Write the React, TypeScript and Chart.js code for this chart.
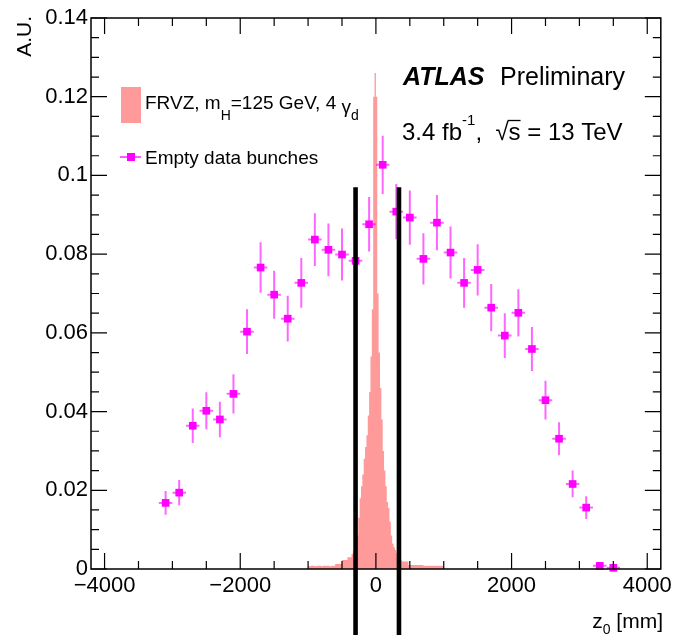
import React, { useEffect, useRef } from 'react';
import { Chart, registerables } from 'chart.js';

Chart.register(...registerables);

const FONT = '"Liberation Sans", Arial, Helvetica, sans-serif';

// Empty data bunches: bin centres (mm), values (A.U.), vertical errors, half bin width
const bkgCenters = [-3100, -2900, -2700, -2500, -2300, -2100, -1900, -1700, -1500, -1300, -1100, -900, -700, -500, -300, -100, 100, 300, 500, 700, 900, 1100, 1300, 1500, 1700, 1900, 2100, 2300, 2500, 2700, 2900, 3100, 3300, 3500];
const bkgValues = [0.0168, 0.0194, 0.0364, 0.0402, 0.038, 0.0445, 0.0603, 0.0766, 0.0697, 0.0636, 0.0727, 0.0837, 0.0811, 0.0799, 0.0783, 0.0876, 0.1027, 0.0908, 0.0893, 0.0788, 0.088, 0.0804, 0.0727, 0.076, 0.0664, 0.0593, 0.0651, 0.0559, 0.0429, 0.0331, 0.0216, 0.0156, 0.0008, 0.0003];
const bkgErrors = [0.003, 0.0032, 0.0044, 0.0047, 0.0045, 0.005, 0.0057, 0.0064, 0.0061, 0.0058, 0.0063, 0.0067, 0.0067, 0.0066, 0.0065, 0.0069, 0.0074, 0.007, 0.0069, 0.0065, 0.007, 0.0066, 0.0063, 0.0065, 0.006, 0.0057, 0.006, 0.0056, 0.0049, 0.0042, 0.0034, 0.0029, 0.0004, 0.0003];
const bkgHalfWidth = 100;

// FRVZ signal histogram: first bin low edge, bin width (mm), bin contents
const sigLow = -1000;
const sigWidth = 20;
const sigValues = [
  0.0008, 0.0008, 0.0007, 0.0008, 0.0008, 0.0008, 0.0007, 0.0008, 0.0008, 0.0008,
  0.0008, 0.0007, 0.0008, 0.0008, 0.0008, 0.0008, 0.0008, 0.0007, 0.0008, 0.0008,
  0.0008, 0.0013, 0.0013, 0.0013, 0.0013, 0.0013, 0.0023, 0.0023, 0.0023, 0.0023,
  0.003, 0.003, 0.003, 0.0038, 0.0045, 0.005, 0.006, 0.0085, 0.013, 0.018,
  0.021, 0.024, 0.028, 0.031, 0.034, 0.039, 0.045, 0.054, 0.066, 0.12,
  0.126, 0.12, 0.07, 0.055, 0.046, 0.038, 0.03, 0.025, 0.021, 0.017,
  0.0155, 0.012, 0.0085, 0.0065, 0.0055, 0.0048, 0.004, 0.003, 0.0025, 0.0023,
  0.0019, 0.0019, 0.0019, 0.0019, 0.0019, 0.001, 0.001, 0.001, 0.001, 0.001,
  0.001, 0.001, 0.001, 0.001, 0.001, 0.001, 0.0008, 0.0008, 0.0008, 0.0008,
  0.0008, 0.0008, 0.0008, 0.0008, 0.0008, 0.0008, 0.0008, 0.0008, 0.0008, 0.0008,
];

// Cut lines (mm) and their top (A.U.)
const cutPositions = [-300, 340];
const cutTop = 0.097;

// Axes
const xMin = -4200;
const xMax = 4200;
const yMin = 0;
const yMax = 0.14;
const xTicks = [-4000, -2000, 0, 2000, 4000];
const xTickLabels = ['\u22124000', '\u22122000', '0', '2000', '4000'];
const xMinorStep = 500;
const yTicks = [0, 0.02, 0.04, 0.06, 0.08, 0.1, 0.12, 0.14];
const yTickLabels = ['0', '0.02', '0.04', '0.06', '0.08', '0.1', '0.12', '0.14'];
const yMinorStep = 0.005;

const SIG_COLOR = '#ff9a9a';
const BKG_COLOR = '#ff00ff';
const ERR_COLOR = 'rgba(255,0,255,0.6)';

type Run = { text: string; size: number; dy?: number; style?: string };

function runsWidth(ctx: CanvasRenderingContext2D, runs: Run[]) {
  let w = 0;
  for (const r of runs) {
    ctx.font = `${r.style ?? ''} ${r.size}px ${FONT}`;
    w += ctx.measureText(r.text).width;
  }
  return w;
}

function drawRuns(ctx: CanvasRenderingContext2D, x: number, baseline: number, runs: Run[]) {
  let cx = x;
  ctx.textAlign = 'left';
  ctx.textBaseline = 'alphabetic';
  for (const r of runs) {
    ctx.font = `${r.style ?? ''} ${r.size}px ${FONT}`;
    ctx.fillText(r.text, cx, baseline + (r.dy ?? 0));
    cx += ctx.measureText(r.text).width;
  }
  return cx;
}

export default function App() {
  const ref = useRef<HTMLCanvasElement>(null);

  useEffect(() => {
    const canvas = ref.current;
    if (!canvas) return;

    const sigData: { x: number; y: number }[] = sigValues.map((v, i) => ({ x: sigLow + i * sigWidth, y: v }));
    sigData.push({ x: sigLow + sigValues.length * sigWidth, y: sigValues[sigValues.length - 1] });
    const bkgData = bkgCenters.map((c, i) => ({ x: c, y: bkgValues[i] }));

    const errorBars = {
      id: 'errorBars',
      beforeDatasetDraw(chart: any, args: any) {
        if (args.index !== 0) return;
        const { ctx } = chart;
        const xs = chart.scales.x;
        const ys = chart.scales.y;
        ctx.save();
        ctx.strokeStyle = ERR_COLOR;
        ctx.lineWidth = 2;
        bkgCenters.forEach((c, i) => {
          const px = xs.getPixelForValue(c);
          const py = ys.getPixelForValue(bkgValues[i]);
          ctx.beginPath();
          ctx.moveTo(px, ys.getPixelForValue(bkgValues[i] - bkgErrors[i]));
          ctx.lineTo(px, ys.getPixelForValue(bkgValues[i] + bkgErrors[i]));
          ctx.moveTo(xs.getPixelForValue(c - bkgHalfWidth), py);
          ctx.lineTo(xs.getPixelForValue(c + bkgHalfWidth), py);
          ctx.stroke();
        });
        ctx.restore();
      },
    };

    const decorations = {
      id: 'decorations',
      afterDraw(chart: any) {
        const { ctx, chartArea } = chart;
        const xs = chart.scales.x;
        const ys = chart.scales.y;
        const { left, right, top, bottom } = chartArea;
        ctx.save();

        // frame
        ctx.strokeStyle = '#000';
        ctx.lineWidth = 1.5;
        ctx.strokeRect(left, top, right - left, bottom - top);

        // ticks (inner, all four sides)
        ctx.lineWidth = 1.2;
        ctx.beginPath();
        const majX = 16;
        const minX = 8;
        for (let v = xTicks[0]; v <= xTicks[xTicks.length - 1] + 1e-9; v += xMinorStep) {
          const isMajor = xTicks.some((t) => Math.abs(t - v) < 1e-6);
          const len = isMajor ? majX : minX;
          const px = xs.getPixelForValue(v);
          ctx.moveTo(px, bottom);
          ctx.lineTo(px, bottom - len);
          ctx.moveTo(px, top);
          ctx.lineTo(px, top + len);
        }
        for (let k = 0; k * yMinorStep <= yMax + 1e-9; k++) {
          const v = yMin + k * yMinorStep;
          const isMajor = yTicks.some((t) => Math.abs(t - v) < 1e-9);
          const len = isMajor ? majX : minX;
          const py = ys.getPixelForValue(v);
          ctx.moveTo(left, py);
          ctx.lineTo(left + len, py);
          ctx.moveTo(right, py);
          ctx.lineTo(right - len, py);
        }
        ctx.stroke();

        // cut lines
        ctx.strokeStyle = '#000';
        ctx.lineWidth = 4.6;
        ctx.lineCap = 'butt';
        cutPositions.forEach((c) => {
          const px = xs.getPixelForValue(c);
          ctx.beginPath();
          ctx.moveTo(px, ys.getPixelForValue(cutTop));
          ctx.lineTo(px, chart.height);
          ctx.stroke();
        });

        ctx.fillStyle = '#000';
        // ATLAS label
        drawRuns(ctx, 403, 85, [{ text: 'ATLAS', size: 25, style: 'italic bold' }]);
        drawRuns(ctx, 500, 85, [{ text: 'Preliminary', size: 25 }]);
        // lumi / energy
        const afterS = drawRuns(ctx, 402, 140, [
          { text: '3.4 fb', size: 24 },
          { text: '-1', size: 15, dy: -15 },
          { text: ',  ', size: 24 },
          { text: '\u221A', size: 24 },
        ]);
        ctx.font = `24px ${FONT}`;
        const sW = ctx.measureText('s').width;
        ctx.fillText('s', afterS, 140);
        ctx.lineWidth = 1.3;
        ctx.beginPath();
        ctx.moveTo(afterS - 1, 120.5);
        ctx.lineTo(afterS + sW, 120.5);
        ctx.stroke();
        drawRuns(ctx, afterS + sW, 140, [{ text: ' = 13 TeV', size: 24 }]);

        // legend
        ctx.fillStyle = SIG_COLOR;
        ctx.fillRect(121, 87, 20, 36);
        ctx.fillStyle = '#000';
        drawRuns(ctx, 145, 109, [
          { text: 'FRVZ, m', size: 19 },
          { text: 'H', size: 14, dy: 11 },
          { text: '=125 GeV, 4 ', size: 19 },
          { text: '\u03B3', size: 19, dy: 4 },
          { text: 'd', size: 14, dy: 11 },
        ]);
        ctx.strokeStyle = BKG_COLOR;
        ctx.lineWidth = 1.3;
        ctx.beginPath();
        ctx.moveTo(120, 157);
        ctx.lineTo(141, 157);
        ctx.stroke();
        ctx.fillStyle = BKG_COLOR;
        ctx.fillRect(127, 153, 8, 8);
        ctx.fillStyle = '#000';
        drawRuns(ctx, 145, 163.5, [{ text: 'Empty data bunches', size: 19 }]);

        // x title
        const xRuns: Run[] = [
          { text: 'z', size: 21 },
          { text: '0', size: 14, dy: 6 },
          { text: ' [mm]', size: 21 },
        ];
        const w = runsWidth(ctx, xRuns);
        drawRuns(ctx, 663 - w, 628, xRuns);

        // y title
        ctx.save();
        ctx.translate(31, 16);
        ctx.rotate(-Math.PI / 2);
        ctx.font = `21px ${FONT}`;
        ctx.textAlign = 'right';
        ctx.textBaseline = 'alphabetic';
        ctx.fillText('A.U.', 0, 0);
        ctx.restore();

        ctx.restore();
      },
    };

    const chart = new Chart(canvas, {
      type: 'scatter',
      data: {
        datasets: [
          {
            type: 'scatter',
            label: 'Empty data bunches',
            data: bkgData,
            pointStyle: 'rect',
            pointRadius: 5.4,
            pointBackgroundColor: BKG_COLOR,
            pointBorderColor: BKG_COLOR,
            pointBorderWidth: 0,
            showLine: false,
            clip: false,
          } as any,
          {
            type: 'line',
            label: 'FRVZ',
            data: sigData,
            stepped: 'after',
            fill: 'origin',
            backgroundColor: SIG_COLOR,
            borderColor: 'rgba(0,0,0,0)',
            borderWidth: 1,
            pointRadius: 0,
            showLine: true,
          } as any,
        ],
      },
      options: {
        animation: false,
        responsive: false,
        devicePixelRatio: 1,
        layout: { padding: { left: 0, right: 12, top: 18, bottom: 0 } },
        plugins: {
          legend: { display: false },
          tooltip: { enabled: false },
        },
        scales: {
          x: {
            type: 'linear',
            min: xMin,
            max: xMax,
            grid: { display: false, drawTicks: false },
            border: { display: false },
            ticks: {
              color: '#000',
              font: { family: FONT, size: 22 },
              padding: 4,
              autoSkip: false,
              maxRotation: 0,
              callback: (_v: any, i: number) => xTickLabels[i],
            },
            afterBuildTicks: (s: any) => {
              s.ticks = xTicks.map((v) => ({ value: v }));
            },
            afterFit: (s: any) => {
              s.height = 66;
            },
          },
          y: {
            type: 'linear',
            min: yMin,
            max: yMax,
            grid: { display: false, drawTicks: false },
            border: { display: false },
            ticks: {
              color: '#000',
              font: { family: FONT, size: 22 },
              padding: 3,
              autoSkip: false,
              callback: (_v: any, i: number) => yTickLabels[i],
            },
            afterBuildTicks: (s: any) => {
              s.ticks = yTicks.map((v) => ({ value: v }));
            },
            afterFit: (s: any) => {
              s.width = 91;
            },
          },
        },
      } as any,
      plugins: [errorBars, decorations],
    });

    return () => chart.destroy();
  }, []);

  return (
    <div style={{ position: 'absolute', left: 0, top: 0, width: 676, height: 635, background: '#fff' }}>
      <canvas ref={ref} width={676} height={635} style={{ display: 'block', width: 676, height: 635 }} />
    </div>
  );
}
